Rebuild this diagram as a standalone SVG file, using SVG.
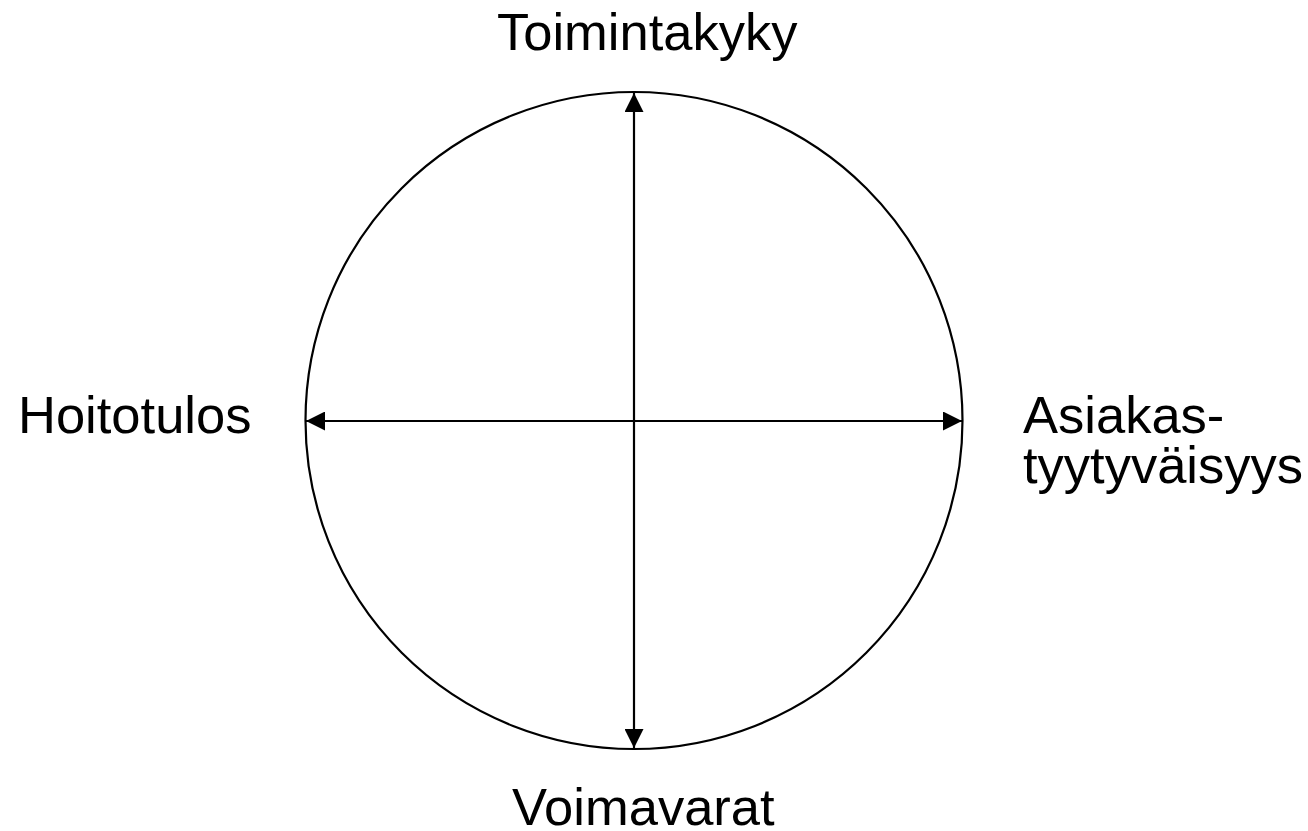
<svg xmlns="http://www.w3.org/2000/svg" width="1308" height="831" viewBox="0 0 1308 831">
<style>
text{font-family:"Liberation Sans",Arial,sans-serif;font-size:52.5px;fill:#000}
.ln{stroke:#000;stroke-width:2.2;fill:none}
</style>
<defs>
<marker id="ah" viewBox="0 0 10 10" refX="10" refY="5" markerUnits="userSpaceOnUse" markerWidth="19" markerHeight="19" orient="auto-start-reverse">
<path d="M0,0 L10,5 L0,10 Z" fill="#000"/>
</marker>
</defs>
<rect width="1308" height="831" fill="#fff"/>
<g id="circle"><circle cx="634" cy="420.5" r="328.5" class="ln"/></g>
<g id="connectors">
<line x1="634" y1="93" x2="634" y2="748" class="ln" marker-start="url(#ah)" marker-end="url(#ah)"/>
<line x1="306" y1="421" x2="962" y2="421" class="ln" marker-start="url(#ah)" marker-end="url(#ah)"/>
</g>
<g id="n-top"><text x="497" y="50">Toimintakyky</text></g>
<g id="n-bottom"><text x="512" y="825">Voimavarat</text></g>
<g id="n-left"><text x="18" y="433">Hoitotulos</text></g>
<g id="n-right"><text x="1023" y="433">Asiakas-</text><text x="1023" y="483">tyytyväisyys</text></g>
</svg>
